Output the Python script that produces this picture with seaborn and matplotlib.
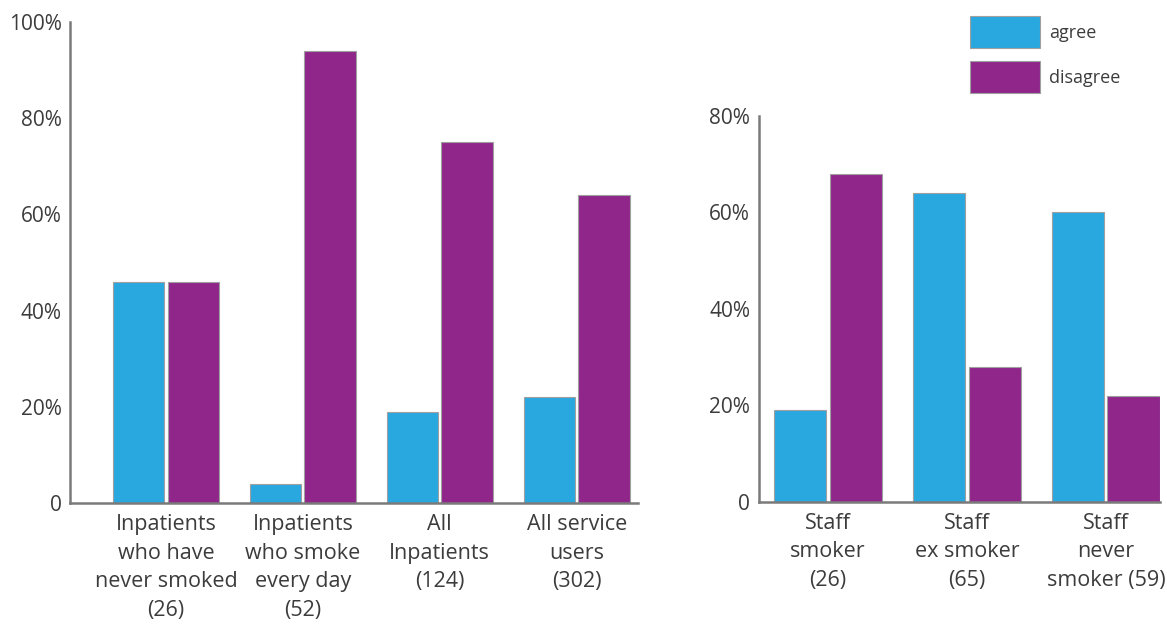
# Agree / disagree survey bars, inpatients vs staff
import pandas as pd
import seaborn as sns
import matplotlib.pyplot as plt
from matplotlib.patches import Patch

# Data
left_groups = ["Inpatients\nwho have\nnever smoked\n(26)",
               "Inpatients\nwho smoke\nevery day\n(52)",
               "All\nInpatients\n(124)",
               "All service\nusers\n(302)"]
left_agree = [46, 4, 19, 22]
left_disagree = [46, 94, 75, 64]

right_groups = ["Staff\nsmoker\n(26)", "Staff\nex smoker\n(65)", "Staff\nnever\nsmoker (59)"]
right_agree = [19, 64, 60]
right_disagree = [68, 28, 22]

responses = ["agree", "disagree"]
left_ticks = [0, 20, 40, 60, 80, 100]
left_ticklabels = ["0", "20%", "40%", "60%", "80%", "100%"]
right_ticks = [0, 20, 40, 60, 80]
right_ticklabels = ["0", "20%", "40%", "60%", "80%"]

colors = {"agree": "#29a8e0", "disagree": "#90268a"}
text_col = "#3c3c3c"
axis_col = "#7a7a7a"


def to_long(groups, agree, disagree):
    return pd.DataFrame({
        "group": groups * 2,
        "response": ["agree"] * len(groups) + ["disagree"] * len(groups),
        "value": agree + disagree,
    })


sns.set_style("white")
plt.rcParams['font.family'] = ['Open Sans', 'DejaVu Sans']

fig = plt.figure(figsize=(11.67, 6.24), dpi=100)
ax1 = fig.add_axes([0.060, 0.194, 0.487, 0.771])
ax2 = fig.add_axes([0.650, 0.196, 0.344, 0.618])

panels = [
    (ax1, to_long(left_groups, left_agree, left_disagree), left_groups, (0, 100),
     left_ticks, left_ticklabels, (-0.7, 3.45), 14),
    (ax2, to_long(right_groups, right_agree, right_disagree), right_groups, (0, 80),
     right_ticks, right_ticklabels, (-0.5, 2.39), 10),
]

for ax, df, groups, ylim, ticks, ticklabels, xlim, ticklen in panels:
    sns.barplot(data=df, x="group", y="value", hue="response", order=groups,
                hue_order=responses, palette=colors, saturation=1, width=0.8, gap=0.06,
                edgecolor="#a0a0a0", linewidth=0.8, legend=False, ax=ax)
    ax.set_ylim(*ylim)
    ax.set_xlim(*xlim)
    ax.set_yticks(ticks)
    ax.set_yticklabels(ticklabels, fontsize=15, color=text_col)
    ax.set_xticks(range(len(groups)))
    ax.set_xticklabels(groups, fontsize=15.5, color=text_col, linespacing=1.47)
    ax.tick_params(axis="y", direction="in", length=ticklen, width=1.8, color=axis_col, pad=6)
    ax.tick_params(axis="x", length=0, pad=8)
    ax.set_xlabel("")
    ax.set_ylabel("")
    for side in ["top", "right"]:
        ax.spines[side].set_visible(False)
    for side in ["left", "bottom"]:
        ax.spines[side].set_color(axis_col)
        ax.spines[side].set_linewidth(1.8)

handles = [Patch(facecolor=colors[r], edgecolor="#a0a0a0", linewidth=0.8, label=r)
           for r in responses]
leg = fig.legend(handles=handles, loc="upper left", bbox_to_anchor=(0.817, 1.0),
                 frameon=False, fontsize=13, handlelength=3.9, handleheight=2.3,
                 labelspacing=0.75, handletextpad=0.5)
for t in leg.get_texts():
    t.set_color(text_col)

fig.savefig("out.png", dpi=100)
